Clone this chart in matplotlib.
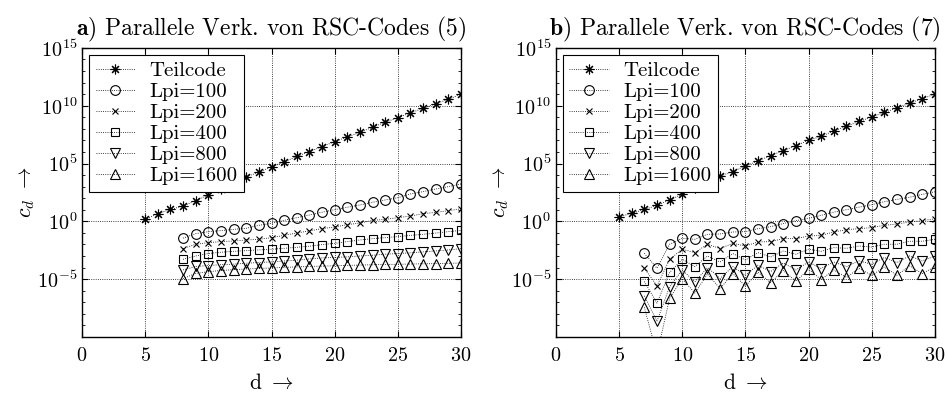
import numpy as np
import matplotlib
matplotlib.use('Agg')
import matplotlib.pyplot as plt
from matplotlib.ticker import LogLocator, NullFormatter

plt.rcParams['font.family'] = ['cmr10', 'DejaVu Serif']
plt.rcParams['mathtext.fontset'] = 'cm'
plt.rcParams['axes.formatter.use_mathtext'] = True
plt.rcParams['font.size'] = 14.5

# d values
d_teil = list(range(5, 31))
d_lpi_a = list(range(8, 31))
d_lpi_b = list(range(7, 31))

labels = ['Teilcode', 'Lpi=100', 'Lpi=200', 'Lpi=400', 'Lpi=800', 'Lpi=1600']

# log10(c_d), panel a (5)
teil_a = [0.17, 0.66, 1.03, 1.32, 1.8, 2.3, 2.8, 3.35, 3.87, 4.24, 4.73, 5.14, 5.63,
          6.03, 6.46, 6.9, 7.3, 7.7, 8.14, 8.57, 8.97, 9.38, 9.78, 10.18, 10.56, 11.0]
lpi100_a = [-1.45, -1.06, -0.89, -0.8, -0.69, -0.6, -0.34, -0.17, 0.09, 0.32, 0.55, 0.79,
            1.01, 1.22, 1.42, 1.65, 1.85, 2.05, 2.37, 2.57, 2.8, 3.0, 3.24]
lpi200_a = [-2.35, -1.98, -1.84, -1.75, -1.7, -1.61, -1.55, -1.41, -1.21, -1.01, -0.82, -0.63,
            -0.49, -0.28, -0.15, 0.09, 0.17, 0.32, 0.46, 0.66, 0.78, 0.92, 1.09]
lpi400_a = [-3.28, -2.99, -2.78, -2.67, -2.59, -2.53, -2.47, -2.41, -2.33, -2.24, -2.15, -2.01,
            -1.9, -1.75, -1.61, -1.49, -1.41, -1.32, -1.21, -1.12, -1.01, -0.89, -0.78]
lpi800_a = [-4.2, -3.9, -3.82, -3.75, -3.7, -3.62, -3.56, -3.5, -3.43, -3.36, -3.25, -3.16,
            -3.12, -3.07, -2.99, -2.93, -2.84, -2.78, -2.72, -2.64, -2.56, -2.47, -2.36]
lpi1600_a = [-4.95, -4.5, -4.35, -4.25, -4.18, -4.12, -4.07, -4.03, -3.98, -3.94, -3.9, -3.87,
             -3.84, -3.81, -3.78, -3.75, -3.73, -3.71, -3.69, -3.67, -3.65, -3.63, -3.6]

# log10(c_d), panel b (7)
teil_b = [0.4, 0.69, 1.03, 1.38, 1.85, 2.35, 2.9, 3.4, 3.91, 4.31, 4.8, 5.23, 5.69,
          6.12, 6.55, 7.01, 7.36, 7.82, 8.22, 8.65, 9.02, 9.43, 9.8, 10.23, 10.6, 11.01]
lpi100_b = [-2.76, -4.05, -1.98, -1.47, -1.55, -1.12, -1.09, -0.92, -0.89, -0.63, -0.46, -0.19,
            0.06, 0.26, 0.52, 0.8, 1.01, 1.23, 1.44, 1.7, 1.9, 2.09, 2.33, 2.56]
lpi200_b = [-4.05, -5.58, -3.28, -2.41, -2.7, -1.98, -2.35, -1.9, -2.13, -1.78, -1.75, -1.49,
            -1.49, -1.27, -1.21, -0.92, -0.72, -0.63, -0.54, -0.34, -0.23, -0.06, 0.06, 0.23]
lpi400_b = [-5.2, -7.07, -4.42, -3.28, -3.91, -3.0, -3.51, -2.78, -3.34, -2.7, -3.08, -2.56,
            -2.84, -2.41, -2.59, -2.27, -2.33, -2.13, -2.22, -1.98, -1.98, -1.72, -1.72, -1.55]
lpi800_b = [-6.44, -8.65, -5.66, -4.2, -5.23, -3.99, -4.94, -3.91, -4.66, -3.79, -4.34, -3.6,
            -4.2, -3.51, -4.08, -3.51, -3.91, -3.42, -3.71, -3.13, -3.56, -2.99, -3.42, -3.0]
lpi1600_b = [-7.44, -11.5, -6.66, -4.95, -6.2, -4.55, -5.82, -4.52, -5.6, -4.4, -5.3, -4.25,
             -5.18, -4.15, -5.03, -4.2, -4.85, -4.05, -4.68, -3.95, -4.66, -3.85, -4.52, -3.92]

markers = [(8, 2, 0), 'o', 'x', 's', 'v', '^']
msizes = [7, 7, 5, 6, 7, 7]

panels = [
    (r'$\mathbf{a)}$ Parallele Verk. von RSC-Codes (5)', d_lpi_a,
     [teil_a, lpi100_a, lpi200_a, lpi400_a, lpi800_a, lpi1600_a]),
    (r'$\mathbf{b)}$ Parallele Verk. von RSC-Codes (7)', d_lpi_b,
     [teil_b, lpi100_b, lpi200_b, lpi400_b, lpi800_b, lpi1600_b]),
]

fig = plt.figure(figsize=(9.47, 3.96), dpi=100)
lefts = [0.0866, 0.587]

for left, (title, d_lpi, series) in zip(lefts, panels):
    ax = fig.add_axes([left, 0.149, 0.4002, 0.730])
    for i, vals in enumerate(series):
        xs = d_teil if i == 0 else d_lpi
        ax.semilogy(xs, 10.0 ** np.array(vals), linestyle=':', color='black',
                    linewidth=0.6, marker=markers[i], markersize=msizes[i],
                    markerfacecolor='none', markeredgecolor='black',
                    markeredgewidth=0.8, label=labels[i])
    ax.set_xlim(0, 30)
    ax.set_ylim(1e-10, 1e15)
    ax.set_xticks([0, 5, 10, 15, 20, 25, 30])
    ax.set_yticks([1e-5, 1e0, 1e5, 1e10, 1e15])
    ax.yaxis.set_minor_locator(LogLocator(base=10, subs=[1.0], numticks=40))
    ax.yaxis.set_minor_formatter(NullFormatter())
    ax.tick_params(which='both', direction='in', top=True, right=True)
    ax.tick_params(which='major', length=4, labelsize=14.5)
    ax.tick_params(axis='x', pad=7)
    ax.tick_params(which='minor', length=2.5)
    ax.grid(True, which='major', linestyle=':', color='black', linewidth=0.6)
    for sp in ax.spines.values():
        sp.set_linewidth(1.0)
    ax.set_title(title, fontsize=17, pad=9)
    ax.set_xlabel(r'd $\rightarrow$', fontsize=15.5, labelpad=6)
    ax.set_ylabel(r'$c_d$ $\rightarrow$', fontsize=15.5, labelpad=0)
    leg = ax.legend(loc='upper left', fontsize=15, fancybox=False, framealpha=1,
                    edgecolor='black', handlelength=1.9, borderaxespad=0.35,
                    labelspacing=0.12, handletextpad=0.7, borderpad=0.3)
    leg.get_frame().set_linewidth(0.8)

fig.savefig('out.png', dpi=100)
